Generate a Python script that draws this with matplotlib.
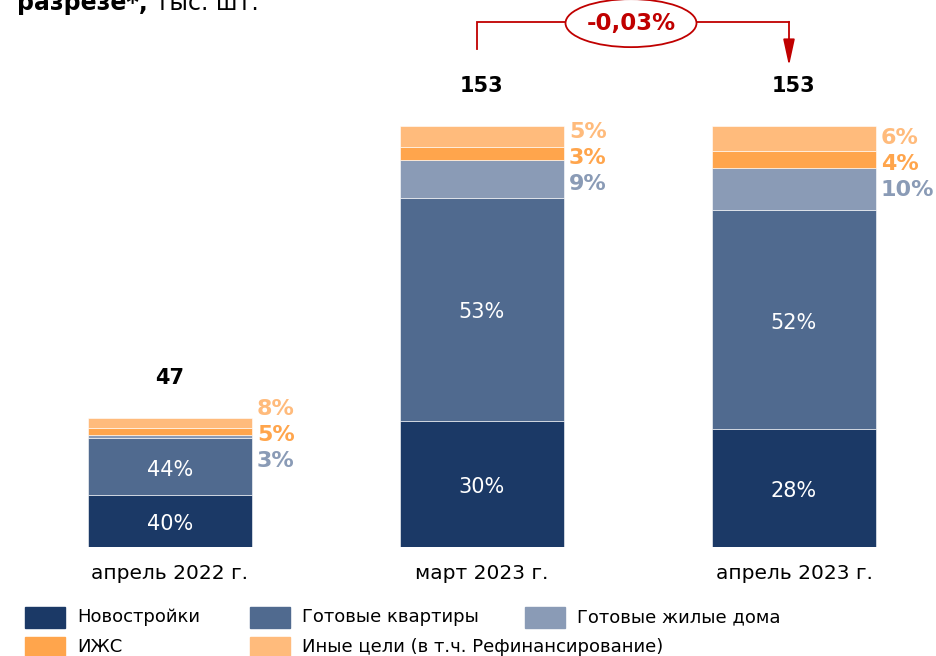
#!/usr/bin/env python3
"""Stacked bars: ипотечные кредиты по целям, тыс. шт."""

import matplotlib
matplotlib.use("Agg")
import matplotlib.pyplot as plt
from matplotlib.patches import Ellipse, Rectangle

W, H, DPI = 937, 656, 100

categories = ["апрель 2022 г.", "март 2023 г.", "апрель 2023 г."]
totals = [47, 153, 153]  # тыс. шт.
series_names = [
    "Новостройки",
    "Готовые квартиры",
    "Готовые жилые дома",
    "ИЖС",
    "Иные цели (в т.ч. Рефинансирование)",
]
# shares, % of the bar total (bottom to top)
share_new = [40, 30, 28]
share_ready_flat = [44, 53, 52]
share_ready_house = [3, 9, 10]
share_izhs = [5, 3, 4]
share_other = [8, 5, 6]
change_label = "-0,03%"

colors = ["#1b3966", "#506a8f", "#8a9bb6", "#ffa54c", "#ffbb7c"]
RED = "#c00000"

plt.rcParams["font.family"] = ["DejaVu Sans"]

fig = plt.figure(figsize=(W / DPI, H / DPI), dpi=DPI)
# baseline at 547 px from the top, 2.75 px per thousand, 312 px between bars
ax = fig.add_axes([0, (H - 547) / H, 1, 547 / H])
ax.set_xlim(-170 / 312, (W - 170) / 312)
ax.set_ylim(0, 547 / 2.75)
for s in ax.spines.values():
    s.set_visible(False)
ax.set_yticks([])
ax.set_xticks(range(len(categories)), categories, fontsize=14.5)
ax.tick_params(axis="x", length=0, pad=12.5)

shares = [share_new, share_ready_flat, share_ready_house, share_izhs, share_other]
x = list(range(len(categories)))
bottoms = [0.0] * len(categories)
seg_bottoms = []
bar_w = 164 / 312
for name, sh, col in zip(series_names, shares, colors):
    heights = [t * p / 100 for t, p in zip(totals, sh)]
    ax.bar(x, heights, bar_w, bottom=bottoms, color=col, label=name,
           edgecolor="white", linewidth=0.4)
    seg_bottoms.append(list(bottoms))
    bottoms = [b + h for b, h in zip(bottoms, heights)]

# white labels inside the two big segments
for k in (0, 1):
    for i in x:
        h = totals[i] * shares[k][i] / 100
        ax.text(i, seg_bottoms[k][i] + h / 2 - 1, f"{shares[k][i]}%",
                color="white", ha="center", va="center", fontsize=15)

# coloured labels to the right of the small segments
gap = 26 / 2.75
for i in x:
    izhs_h = totals[i] * share_izhs[i] / 100
    y_mid = seg_bottoms[3][i] + izhs_h / 2 - 1.5
    for k, dy in ((4, gap), (3, 0), (2, -gap)):
        ax.text(i + bar_w / 2 + 5 / 312, y_mid + dy, f"{shares[k][i]}%",
                color=colors[k], ha="left", va="center", fontsize=16,
                fontweight="bold")

# totals above the bars
for i in x:
    ax.text(i, totals[i] + 14.5, f"{totals[i]}", ha="center", va="center",
            fontsize=15, fontweight="bold")

# change bracket between March and April 2023
y_br = max(totals) + 38
x0, x1 = 1 - 5 / 312, 2 - 5 / 312
ax.plot([x0, x0, x1], [totals[1] + 28, y_br, y_br], color=RED, lw=1.3,
        clip_on=False, solid_joinstyle="miter")
ax.annotate("", xy=(x1, totals[2] + 22), xytext=(x1, y_br),
            arrowprops=dict(arrowstyle="-|>,head_length=1.6,head_width=0.35",
                            color=RED, lw=1.3, shrinkA=0, shrinkB=0))
xc = (x0 + x1) / 2 - 2 / 312
ax.add_patch(Ellipse((xc, y_br - 0.5), 131 / 312, 48 / 2.75, facecolor="white",
                     edgecolor=RED, lw=1.3, clip_on=False, zorder=3))
ax.text(xc, y_br - 0.5, change_label, color=RED, ha="center", va="center",
        fontsize=16.5, fontweight="bold", zorder=4)

# title line, cut at the top like the source slide
t1 = fig.text(17 / W, 1 - 10 / H, "разрезе*,", fontsize=17, fontweight="bold",
              va="baseline", ha="left")
ax.annotate(" тыс. шт.", xy=(1, 0), xycoords=t1, va="bottom", ha="left",
            fontsize=17, annotation_clip=False)

# legend laid out by rows as in the source
legend_rows = [[0, 1, 2], [3, 4]]
col_x = [25, 250, 525]
row_y = [617.5, 647.5]
for r, row in enumerate(legend_rows):
    for c, k in enumerate(row):
        px, py = col_x[c], H - row_y[r]
        fig.add_artist(Rectangle((px / W, (py - 10.5) / H), 40 / W, 21 / H,
                                 transform=fig.transFigure, color=colors[k]))
        fig.text((px + 52) / W, py / H, series_names[k], fontsize=13,
                 va="center", ha="left")

fig.savefig("out.png", dpi=DPI)
